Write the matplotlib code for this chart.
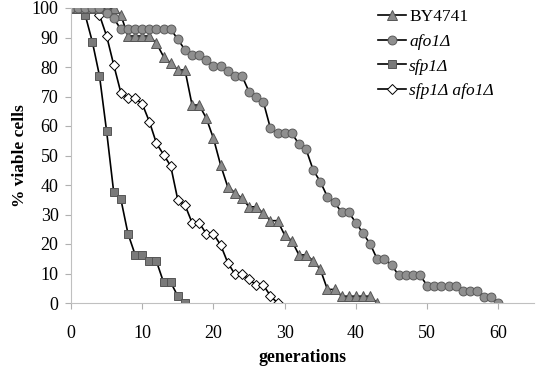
import numpy as np
import matplotlib
matplotlib.use('Agg')
import matplotlib.pyplot as plt

plt.rcParams['font.family'] = ['Liberation Serif', 'DejaVu Serif']

# % viable cells per generation
by4741 = [100, 100, 100, 100, 100, 100, 100, 97.6, 90.5, 90.5, 90.5, 90.5, 88, 83.5,
          81.3, 79, 79, 67.1, 67.1, 62.6, 55.8, 46.8, 39.4, 37.4, 35.5, 32.6, 32.6,
          30.4, 27.9, 27.9, 23, 21.1, 16.3, 16.3, 14.3, 11.4, 4.6, 4.6, 2.3, 2.3, 2.3,
          2.3, 2.3, 0]
afo1 = [100, 100, 100, 100, 100, 98.2, 96.5, 92.8, 92.8, 92.8, 92.8, 92.8, 92.8, 92.8,
        92.8, 89.4, 85.8, 84.1, 84.1, 82.4, 80.4, 80.4, 78.7, 77, 77, 71.6, 69.7, 68.2,
        59.2, 57.5, 57.5, 57.5, 53.9, 52.1, 45.1, 41.1, 36, 34.1, 30.7, 30.7, 27.2,
        23.6, 20, 14.8, 14.8, 12.9, 9.4, 9.4, 9.4, 9.4, 5.9, 5.9, 5.9, 5.9, 5.9, 4.1,
        4.1, 4.1, 2.1, 2.1, 0]
sfp1 = [100, 100, 97.6, 88.5, 77, 58.2, 37.5, 35.2, 23.5, 16.4, 16.4, 14.1, 14.1, 7,
        7, 2.3, 0]
sfp1_afo1 = [100, 100, 100, 100, 97.6, 90.5, 80.7, 71.3, 69.4, 69.4, 67.5, 61.5, 54.1,
             50.3, 46.4, 34.9, 33.2, 27.2, 27.2, 23.4, 23.4, 19.7, 13.7, 9.8, 9.8, 8,
             6.1, 6.1, 2.4, 0]

fig = plt.figure(figsize=(5.38, 3.73), dpi=100)
ax = fig.add_axes([71/538, 70/373, 463/538, 295/373])

ms = 5.8
ax.plot(np.arange(len(sfp1_afo1)), sfp1_afo1, color='black', lw=1.2, marker='D',
        ms=ms - 0.9, mfc='white', mec='black', mew=0.7, label='sfp1Δ afo1Δ')
ax.plot(np.arange(len(sfp1)), sfp1, color='black', lw=1.2, marker='s',
        ms=ms, mfc='#7a7a7a', mec='#555555', mew=0.7, label='sfp1Δ')
ax.plot(np.arange(len(by4741)), by4741, color='black', lw=1.2, marker='^',
        ms=ms + 1.3, mfc='#8a8a8a', mec='#555555', mew=0.7, label='BY4741')
ax.plot(np.arange(len(afo1)), afo1, color='black', lw=1.2, marker='o',
        ms=ms + 0.6, mfc='#8f8f8f', mec='#5a5a5a', mew=0.7, label='afo1Δ')

ax.set_xlim(0, 65)
ax.set_ylim(0, 100)
ax.set_xticks(range(0, 61, 10))
ax.set_yticks(range(0, 101, 10))
ax.tick_params(labelsize=13, color='#b0b0b0', length=4, width=0.8)
ax.tick_params(axis='x', pad=12)
ax.tick_params(axis='y', pad=5)
for s in ['top', 'right']:
    ax.spines[s].set_visible(False)
for s in ['left', 'bottom']:
    ax.spines[s].set_color('#c0c0c0')
    ax.spines[s].set_linewidth(0.8)

ax.set_xlabel('generations', fontsize=12.8, fontweight='bold', labelpad=5)
ax.set_ylabel('% viable cells', fontsize=12.5, fontweight='bold')
ax.yaxis.set_label_coords(-0.093, 0.5)

handles, labels = ax.get_legend_handles_labels()
order = [2, 3, 1, 0]
leg = ax.legend([handles[i] for i in order], [labels[i] for i in order], frameon=False,
                loc='upper left', bbox_to_anchor=(376/538, 1 - 7/373),
                bbox_transform=fig.transFigure, fontsize=12.5, handlelength=1.6,
                handletextpad=0.2, labelspacing=0.5, borderaxespad=0, borderpad=0.1)
for t in leg.get_texts()[1:]:
    t.set_fontstyle('italic')

plt.savefig('out.png', dpi=100)
